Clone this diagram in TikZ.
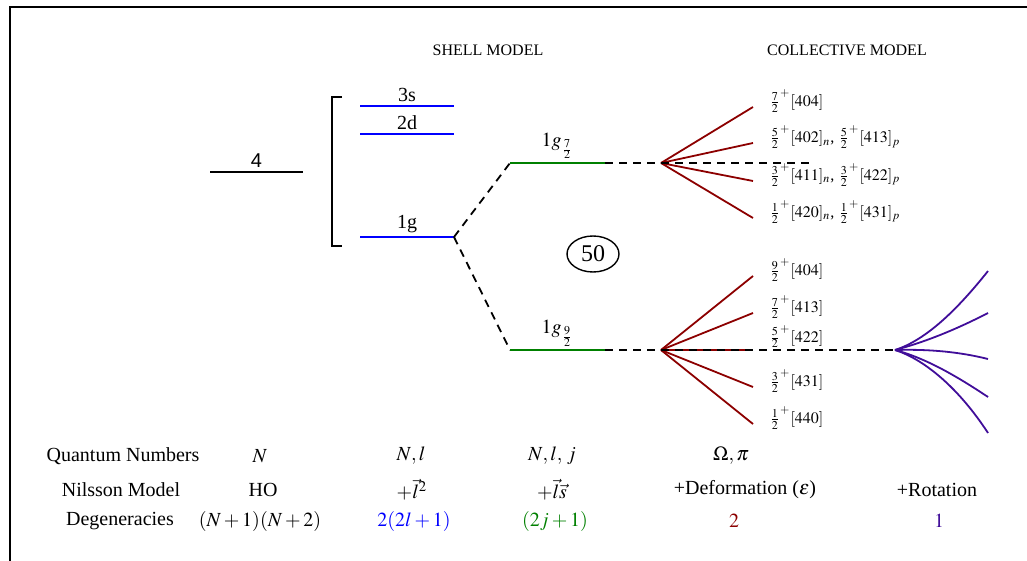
\documentclass[tikz,border=0pt]{standalone}
\usepackage{mathptmx}
\usepackage{fontspec}
\setmainfont{Liberation Serif}
\setsansfont{Liberation Sans}
\usepackage{xcolor}
\usetikzlibrary{positioning, calc, shapes.geometric}

\definecolor{fanred}{rgb}{0.55,0,0}
\definecolor{jgreen}{rgb}{0,0.5,0}
\definecolor{rotblue}{rgb}{0.25,0.05,0.6}

\begin{document}
\begin{tikzpicture}[x=0.5pt, y=-0.5pt,
  lvl/.style={line width=1pt},
  split/.style={line width=0.9pt, dash pattern=on 4pt off 3pt},
  fan/.style={line width=0.9pt, fanred},
  rot/.style={line width=0.9pt, rotblue},
  orb/.style={above, inner sep=1.5pt},
  nil/.style={anchor=west, inner sep=0pt, font=\footnotesize},
  head/.style={font=\footnotesize}]
  \useasboundingbox (0,0) rectangle (1027,561);
  % frame
  \draw[line width=1.2pt] (10,561) -- (10,7) -- (1027,7);
  \node[head] (shell) at (488,50) {SHELL MODEL};
  \node[head] (coll) at (847,50) {COLLECTIVE MODEL};

  % oscillator shell
  \draw[lvl] (210,172) -- node[orb] (n4) {\sffamily 4} (303,172);
  \draw[line width=0.9pt] (342,97) -- (332,97) -- (332,246) -- (342,246);

  % shell model levels
  \draw[lvl, blue] (360,106) -- node[orb, black] (s3) {3s} (454,106);
  \draw[lvl, blue] (360,134) -- node[orb, black] (d2) {2d} (454,134);
  \draw[lvl, blue] (360,237) -- node[orb, black] (g1) {1g} (454,237) coordinate (g);
  \coordinate (g72) at (510,163);
  \coordinate (g92) at (510,350);
  \draw[split] (g) -- (g72);
  \draw[split] (g) -- (g92);
  \draw[lvl, jgreen] (g72) -- node[orb, black] (l72) {$1g_{\frac{7}{2}}$} (605,163) coordinate (g72r);
  \draw[lvl, jgreen] (g92) -- node[orb, black] (l92) {$1g_{\frac{9}{2}}$} (605,350) coordinate (g92r);
  \node[draw, ellipse, line width=0.7pt, inner sep=1pt, minimum width=26pt, minimum height=18pt, font=\large] (magic) at (593,254) {50};

  % Nilsson states, 1g7/2
  \coordinate (fa) at (661,163);
  \foreach \i/\y/\txt in {1/107/{$\frac{7}{2}^{+}[404]$},
                          2/143/{$\frac{5}{2}^{+}[402]_{n}$, $\frac{5}{2}^{+}[413]_{p}$},
                          3/181/{$\frac{3}{2}^{+}[411]_{n}$, $\frac{3}{2}^{+}[422]_{p}$},
                          4/218/{$\frac{1}{2}^{+}[420]_{n}$, $\frac{1}{2}^{+}[431]_{p}$}} {
    \draw[fan] (fa) -- (753,\y) coordinate (u\i);
    \node[nil] (ul\i) at ([xshift=8pt, yshift=3pt]u\i) {\txt};
  }
  \draw[split] (g72r) -- (fa) -- (810,163);

  % Nilsson states, 1g9/2
  \coordinate (fb) at (661,350);
  \foreach \i/\y/\txt in {1/276/{$\frac{9}{2}^{+}[404]$},
                          2/313/{$\frac{7}{2}^{+}[413]$},
                          4/387/{$\frac{3}{2}^{+}[431]$},
                          5/424/{$\frac{1}{2}^{+}[440]$}} {
    \draw[fan] (fb) -- (753,\y) coordinate (w\i);
    \node[nil] (wl\i) at ([xshift=8pt, yshift=3pt]w\i) {\txt};
  }
  \draw[fan] (fb) -- (753,350) coordinate (w3);
  \node[nil, anchor=south west] (wl3) at ([xshift=8pt, yshift=1pt]w3) {$\frac{5}{2}^{+}[422]$};
  \coordinate (rb) at (895,350);
  \draw[split] (g92r) -- (fb) -- (rb);

  % rotational band
  \draw[rot] (rb) .. controls (926,340) and (957,310) .. (988,271);
  \draw[rot] (rb) .. controls (925,342) and (955,330) .. (988,313);
  \draw[rot] (rb) .. controls (930,349) and (960,352) .. (988,359);
  \draw[rot] (rb) .. controls (925,358) and (955,375) .. (988,397);
  \draw[rot] (rb) .. controls (926,360) and (960,390) .. (988,433);

  % table
  \node (q0) at (123,456) {Quantum Numbers};
  \node (q1) at (260,456) {$N$};
  \node (q2) at (411,456) {$N, l$};
  \node (q3) at (552,456) {$N, l,\, j$};
  \node (q4) at (731,456) {$\Omega, \pi$};
  \node (m0) at (121,490) {Nilsson Model};
  \node (m1) at (263,490) {HO};
  \node (m2) at (412,490) {$+\vec{l}^{2}$};
  \node (m3) at (552,490) {$+\vec{l}\vec{s}$};
  \node (m4) at (745,490) {+Deformation ($\epsilon$)};
  \node (m5) at (937,490) {+Rotation};
  \node (d0) at (120,521) {Degeneracies};
  \node (d1) at (260,521) {$(N+1)(N+2)$};
  \node[blue] (d2) at (414,521) {$2(2l+1)$};
  \node[jgreen] (d3) at (555,521) {$(2j+1)$};
  \node[fanred] (d4) at (734,521) {$2$};
  \node[rotblue] (d5) at (939,521) {$1$};
\end{tikzpicture}
\end{document}
